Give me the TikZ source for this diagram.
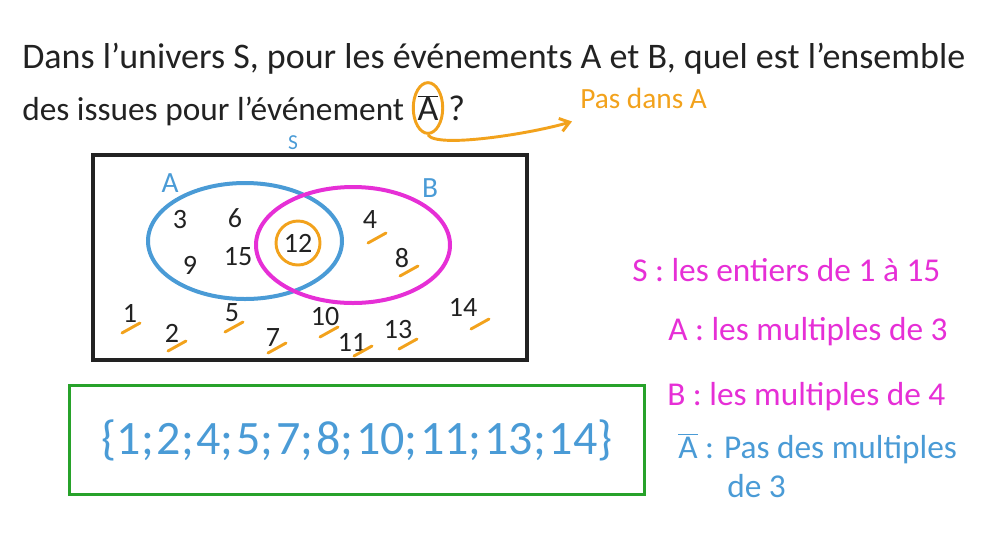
\documentclass[tikz,border=0pt]{standalone}
\usepackage{fontspec}
\setmainfont{Carlito}
\usepackage{xcolor}
\usepackage{tikz}
\usetikzlibrary{positioning, shapes.geometric, arrows.meta}

\definecolor{inkblack}{HTML}{222222}
\definecolor{skyblue}{HTML}{4A9BD6}
\definecolor{pinkish}{HTML}{E62FD6}
\definecolor{marker}{HTML}{F2A21C}
\definecolor{greenbox}{HTML}{27A22A}

\newcommand{\Abar}{\ensuremath{\overline{\mbox{A}}}}

\begin{document}
\begin{tikzpicture}[x=0.75pt, y=-0.75pt, every node/.style={inner sep=0pt, text=inkblack},
    question/.style={anchor=base west, font=\fontsize{27}{30}\selectfont},
    numb/.style={font=\fontsize{21}{21}\selectfont},
    setname/.style={text=skyblue, font=\fontsize{22}{22}\selectfont},
    legend/.style={anchor=base west, font=\fontsize{25}{25}\selectfont},
    tick/.style={draw=marker, line width=2.2pt, line cap=round},
    pointer/.style={draw=marker, line width=2.2pt, -{Straight Barb[length=7pt, width=10pt]}}]
    \useasboundingbox (0,0) rectangle (992,558);

    % Question
    \node (q1) [question] at (22,68) {Dans l’univers S, pour les événements A et B, quel est l’ensemble};
    \node (q2) [question, font=\fontsize{25}{30}\selectfont] at (22,120) {des issues pour l’événement};
    \node (abar) [ellipse, draw=marker, line width=2.2pt, minimum width=21pt, minimum height=38pt, font=\fontsize{27}{30}\selectfont] at (428,108) {\Abar};
    \node (qmark) [question] at (448,120) {?};
    \node (pasA) [anchor=base west, text=marker, font=\fontsize{22}{22}\selectfont] at (580,108) {Pas dans A};
    \draw[pointer] (abar.south) .. controls +(8,14) and +(-40,12) .. ([shift={(-8,13)}]pasA.south west);

    % Venn diagram
    \node (labS) [setname, font=\fontsize{16}{16}\selectfont] at (293,143) {S};
    \draw[draw=inkblack, line width=2.6pt] (93,155) rectangle (527,360);
    \draw[draw=skyblue, line width=3pt] (245,241) ellipse [x radius=97, y radius=58];
    \draw[draw=pinkish, line width=3pt] (353,245) ellipse [x radius=97, y radius=58];
    \node (labA) [setname] at (170,183) {A};
    \node (labB) [setname] at (430,188) {B};

    \node (n3) [numb] at (180,220) {3};
    \node (n6) [numb] at (235,218) {6};
    \node (n9) [numb] at (190,265) {9};
    \node (n15) [numb] at (238,257) {15};
    \node (n12) [numb, circle, draw=marker, line width=2.2pt, minimum size=33pt] at (298,243) {12};
    \node (n4) [numb] at (370,220) {4};
    \node (n8) [numb] at (402,258) {8};
    \node (n1) [numb] at (130,313) {1};
    \node (n2) [numb] at (172,333) {2};
    \node (n5) [numb] at (232,313) {5};
    \node (n7) [numb] at (273,338) {7};
    \node (n10) [numb] at (325,317) {10};
    \node (n11) [numb] at (352,342) {11};
    \node (n13) [numb] at (398,330) {13};
    \node (n14) [numb] at (463,307) {14};

    % outcomes not in A
    \foreach \n/\dx/\dy in {n4/7/18, n8/7/13, n1/1/15, n2/5/13, n5/2/14, n7/4/10, n10/4/15, n11/11/9, n13/10/14, n14/17/17}
        \draw[tick] ([shift={(\dx-9,\dy+5)}]\n.center) -- ++(18,-10);

    % Answer
    \node (answer) [draw=greenbox, line width=2.2pt, minimum width=431pt, minimum height=82pt, text=skyblue, font=\fontsize{36}{36}\selectfont] at (357,440) {\{1;\hspace{2pt}2;\hspace{2pt}4;\hspace{2pt}5;\hspace{2pt}7;\hspace{2pt}8;\hspace{2pt}10;\hspace{2pt}11;\hspace{2pt}13;\hspace{2pt}14\}};

    % Definitions
    \node (defS) [legend, text=pinkish] at (632,281) {S : les entiers de 1 à 15};
    \node (defA) [legend, text=pinkish] at (668,340) {A : les multiples de 3};
    \node (defB) [legend, text=pinkish] at (667,405) {B : les multiples de 4};
    \node (defAbar) [legend, text=skyblue] at (678,458) {\Abar\ : Pas des multiples};
    \node (defAbar2) [legend, text=skyblue] at (727,497) {de 3};
\end{tikzpicture}
\end{document}
